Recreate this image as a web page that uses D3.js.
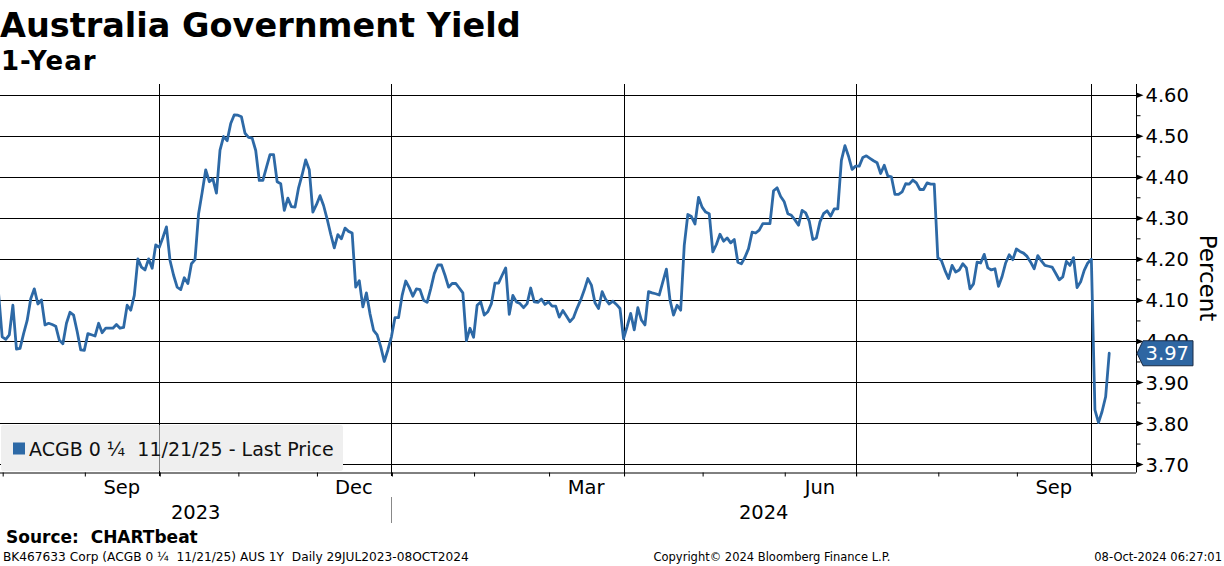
<!DOCTYPE html>
<html>
<head>
<meta charset="utf-8">
<script src="https://cdn.jsdelivr.net/npm/d3@7"></script>
<style>
  html, body { margin: 0; padding: 0; background: #fff; }
  svg { display: block; font-family: "DejaVu Sans", sans-serif; }
  text { white-space: pre; }
</style>
</head>
<body>
<svg id="chart" width="1224" height="566"></svg>
<script>
// ---------------- DATA ----------------
const title = "Australia Government Yield";
const subtitle = "1-Year";
const seriesName = "ACGB 0 \u00BC  11/21/25 - Last Price";
const axisTitle = "Percent";
const sourceText = "Source:  CHARTbeat";
const footerLeft = "BK467633 Corp (ACGB 0 \u00BC  11/21/25) AUS 1Y  Daily 29JUL2023-08OCT2024";
const footerCenter = "Copyright\u00A9 2024 Bloomberg Finance L.P.";
const footerRight = "08-Oct-2024 06:27:01";

// first trading day of the series (one value per weekday from here)
const startDate = "2023-07-31";
const endDate = "2024-10-08";

// daily 1Y yield (%), one value per weekday
const yields = [
  4.115, 4.01, 4.004, 4.015, 4.087, 3.98, 3.982, 4.018, 4.05, 4.103,
  4.127, 4.09, 4.10, 4.039, 4.043, 4.04, 4.036, 4.002, 3.993, 4.043,
  4.07, 4.063, 4.023, 3.978, 3.977, 4.018, 4.015, 4.012, 4.043, 4.02,
  4.031, 4.031, 4.031, 4.04, 4.031, 4.033, 4.087, 4.075, 4.111, 4.20,
  4.18, 4.173, 4.20, 4.177, 4.234, 4.228, 4.252, 4.278, 4.196, 4.16,
  4.131, 4.125, 4.154, 4.14,
  4.188, 4.198, 4.31, 4.362, 4.417, 4.388, 4.395, 4.36, 4.465, 4.498,
  4.488, 4.53, 4.551, 4.55, 4.546, 4.506, 4.496, 4.494, 4.464, 4.391,
  4.391, 4.423, 4.454, 4.454, 4.388, 4.383, 4.318, 4.348, 4.327, 4.326,
  4.373, 4.405, 4.441, 4.417, 4.314, 4.332, 4.354, 4.33, 4.297, 4.26,
  4.227, 4.259, 4.249, 4.275, 4.267, 4.263, 4.131, 4.147, 4.083, 4.117,
  4.066, 4.026,
  4.015, 3.986, 3.95, 3.978, 4.01, 4.057, 4.057, 4.111, 4.146, 4.13,
  4.109, 4.127, 4.125, 4.099, 4.094, 4.127, 4.164, 4.185, 4.185, 4.16,
  4.131, 4.14, 4.14, 4.129, 4.117, 4.001, 4.031, 4.009, 4.087, 4.095,
  4.063, 4.071, 4.091, 4.141, 4.141, 4.16, 4.178, 4.065, 4.111, 4.095,
  4.091, 4.081, 4.091, 4.129, 4.095, 4.094, 4.102, 4.089, 4.095, 4.085,
  4.085, 4.058,
  4.074, 4.061, 4.047, 4.057, 4.08, 4.10, 4.124, 4.152, 4.136, 4.093,
  4.079, 4.12, 4.101, 4.09, 4.097, 4.089, 4.079, 4.006, 4.035, 4.067,
  4.027, 4.081, 4.051, 4.039, 4.12, 4.117, 4.115, 4.112, 4.144, 4.175,
  4.10, 4.063, 4.087, 4.075, 4.233, 4.308, 4.303, 4.285, 4.35, 4.326,
  4.314, 4.31, 4.217, 4.235, 4.26, 4.243, 4.251, 4.239, 4.247, 4.192,
  4.188,
  4.204, 4.225, 4.265, 4.263, 4.27, 4.286, 4.286, 4.286, 4.366, 4.373,
  4.352, 4.339, 4.31, 4.306, 4.295, 4.282, 4.318, 4.312, 4.292, 4.247,
  4.251, 4.29, 4.31, 4.317, 4.304, 4.322, 4.322, 4.44, 4.476, 4.45,
  4.418, 4.426, 4.426, 4.447, 4.451, 4.445, 4.439, 4.434, 4.408, 4.428,
  4.402, 4.40, 4.357, 4.357, 4.363, 4.383, 4.382, 4.392, 4.385, 4.369,
  4.369, 4.385,
  4.382, 4.382, 4.203, 4.196, 4.172, 4.152, 4.184, 4.168, 4.173, 4.188,
  4.178, 4.127, 4.139, 4.192, 4.19, 4.211, 4.178, 4.173, 4.176, 4.133,
  4.157, 4.19, 4.21, 4.198, 4.224, 4.218, 4.214, 4.206, 4.192, 4.176,
  4.208, 4.195, 4.184, 4.182, 4.18, 4.165, 4.149, 4.156, 4.194, 4.184,
  4.203, 4.13, 4.144, 4.172, 4.19, 4.199, 3.832, 3.801, 3.828, 3.864,
  3.97
];

const yTicks = [3.70, 3.80, 3.90, 4.00, 4.10, 4.20, 4.30, 4.40, 4.50, 4.60];
const yMinorTicks = [3.75, 3.85, 3.95, 4.05, 4.15, 4.25, 4.35, 4.45, 4.55];
const monthLabels = { 8: "Sep", 11: "Dec", 2: "Mar", 5: "Jun" };   // month index -> label
const gridMonths = [0, 3, 6, 9];                                     // quarter starts get gridlines

// ---------------- LAYOUT ----------------
const svg = d3.select("#chart");
const plot = { left: 0, right: 1136, top: 84, bottom: 472.5 };
const lineColor = "#2d69a6";
const crisp = v => Math.round(v) + 0.5;

// trading-day calendar (weekdays)
const parse = d3.timeParse("%Y-%m-%d");
const days = d3.timeDay.range(parse(startDate), d3.timeDay.offset(parse(endDate), 1))
  .filter(d => d.getDay() !== 0 && d.getDay() !== 6)
  .slice(0, yields.length);
const data = yields.map((v, i) => ({ i, date: days[i], v }));
const bis = d3.bisector(d => d).left;
const idxOf = date => bis(days, date);

const x = d3.scaleLinear().domain([0.39, 318.5]).range([plot.left, plot.right]);
const y = d3.scaleLinear().domain([3.679, 4.627]).range([472.7, 83.6]);

// months
const months = d3.timeMonth.range(new Date(2023, 7, 1), new Date(2024, 10, 1));
const monthStart = months.map(m => ({ m, i: idxOf(m) }));

// horizontal gridlines
svg.append("g").selectAll("line").data(yTicks).join("line")
  .attr("x1", plot.left).attr("x2", plot.right)
  .attr("y1", d => crisp(y(d))).attr("y2", d => crisp(y(d)))
  .attr("stroke", "#000").attr("stroke-width", 1);

// legend box (under vertical gridlines)
const lg = { x: 1, y: 425, w: 342, h: 46 };
svg.append("rect").attr("x", lg.x).attr("y", lg.y).attr("width", lg.w).attr("height", lg.h)
  .attr("rx", 3).attr("fill", "#efefef");

// vertical gridlines at quarter starts
const qLines = monthStart.filter(d => gridMonths.includes(d.m.getMonth()) && d.i < yields.length + 10 && d.i > 0);
svg.append("g").selectAll("line").data(qLines).join("line")
  .attr("x1", d => crisp(x(d.i))).attr("x2", d => crisp(x(d.i)))
  .attr("y1", plot.top).attr("y2", 476)
  .attr("stroke", "#000").attr("stroke-width", 1);

// veil so the gridline reads lighter inside the legend
svg.append("rect").attr("x", lg.x).attr("y", lg.y).attr("width", lg.w).attr("height", lg.h)
  .attr("rx", 3).attr("fill", "#efefef").attr("fill-opacity", 0.55);

// legend content
svg.append("rect").attr("x", 13).attr("y", 442.5).attr("width", 12).attr("height", 12).attr("fill", lineColor);
svg.append("text").attr("x", 29).attr("y", 455.5).attr("font-size", 19).attr("fill", "#111")
  .text(seriesName);

// bottom axis (month ticks)
const xAxis = d3.axisBottom(x)
  .tickValues(monthStart.filter(d => d.i > 0 && x(d.i) < plot.right).map(d => d.i))
  .tickSize(4).tickFormat("");
const gx = svg.append("g").attr("transform", `translate(0,${plot.bottom})`).call(xAxis);
gx.select(".domain").attr("d", `M${plot.left},0.5H${plot.right}`).attr("stroke", "#000");
gx.selectAll(".tick line").attr("stroke", "#000").attr("transform", "translate(0.5,0)");

// month labels (centered within month)
const labelData = [];
monthStart.forEach((d, k) => {
  const lab = monthLabels[d.m.getMonth()];
  if (lab !== undefined && k + 1 < monthStart.length) {
    labelData.push({ lab, c: (d.i + monthStart[k + 1].i) / 2 });
  }
});
svg.append("g").selectAll("text").data(labelData).join("text")
  .attr("x", d => x(d.c)).attr("y", 494).attr("text-anchor", "middle")
  .attr("font-size", 19.5).attr("fill", "#000").text(d => d.lab);

// year labels and separator
const jan = monthStart.find(d => d.m.getFullYear() === 2024 && d.m.getMonth() === 0);
const years = [
  { lab: "2023", c: (plot.left + x(jan.i)) / 2 },
  { lab: "2024", c: (x(jan.i) + plot.right) / 2 }
];
svg.append("g").selectAll("text").data(years).join("text")
  .attr("x", d => d.c).attr("y", 519).attr("text-anchor", "middle")
  .attr("font-size", 19.5).attr("fill", "#000").text(d => d.lab);
svg.append("line").attr("x1", crisp(x(jan.i))).attr("x2", crisp(x(jan.i)))
  .attr("y1", 497).attr("y2", 523).attr("stroke", "#888").attr("stroke-width", 1);

// right axis
const gy = svg.append("g").attr("transform", `translate(${plot.right + 0.5},0)`);
gy.call(d3.axisRight(y).tickValues(yMinorTicks).tickSize(4).tickFormat(""));
gy.select(".domain").attr("d", `M0,${plot.top}V${plot.bottom}`).attr("stroke", "#000");
const gyMaj = svg.append("g").attr("transform", `translate(${plot.right + 0.5},0)`)
  .call(d3.axisRight(y).tickValues(yTicks).tickSize(0).tickPadding(9).tickFormat(d3.format(".2f")));
gyMaj.select(".domain").remove();
gyMaj.selectAll(".tick text").attr("font-size", 19.5).attr("fill", "#000")
  .attr("font-family", "DejaVu Sans, sans-serif").attr("dy", "0.36em");
gyMaj.selectAll(".tick").append("path").attr("d", "M0,-2.8L7,0L0,2.8Z").attr("fill", "#000");

// axis title
svg.append("text").attr("transform", `translate(1200,278) rotate(90)`)
  .attr("text-anchor", "middle").attr("font-size", 23).attr("fill", "#000").text(axisTitle);

// series line
const line = d3.line().x(d => x(d.i)).y(d => y(d.v));
svg.append("path").datum(data).attr("d", line)
  .attr("fill", "none").attr("stroke", lineColor).attr("stroke-width", 2.8)
  .attr("stroke-linejoin", "round").attr("stroke-linecap", "round");

// last price tag
const last = data[data.length - 1];
const ty = y(last.v);
const tx = plot.right + 1;
svg.append("path")
  .attr("d", `M${tx},${ty}L${tx + 6},${ty - 12.5}H${tx + 56}V${ty + 12.5}H${tx + 6}Z`)
  .attr("fill", "#2e66a2").attr("stroke", "#1a2b45").attr("stroke-width", 1);
svg.append("text").attr("x", tx + 52).attr("y", ty).attr("dy", "0.36em").attr("text-anchor", "end")
  .attr("font-size", 19.5).attr("fill", "#fff").text(d3.format(".2f")(last.v));

// titles
svg.append("text").attr("x", 0).attr("y", 37).attr("font-size", 33.5).attr("font-weight", "bold")
  .attr("fill", "#000").text(title);
svg.append("text").attr("x", 1).attr("y", 70).attr("font-size", 26).attr("font-weight", "bold")
  .attr("letter-spacing", 1).attr("fill", "#000").text(subtitle);

// footer
svg.append("text").attr("x", 6).attr("y", 543).attr("font-size", 17).attr("font-weight", "bold")
  .attr("fill", "#000").text(sourceText);
svg.append("text").attr("x", 3).attr("y", 561).attr("font-size", 12.2).attr("fill", "#000").text(footerLeft);
svg.append("text").attr("x", 772).attr("y", 561).attr("text-anchor", "middle").attr("font-size", 11.5)
  .attr("fill", "#000").text(footerCenter);
svg.append("text").attr("x", 1222).attr("y", 561).attr("text-anchor", "end").attr("font-size", 11.5)
  .attr("fill", "#000").text(footerRight);
</script>
</body>
</html>
